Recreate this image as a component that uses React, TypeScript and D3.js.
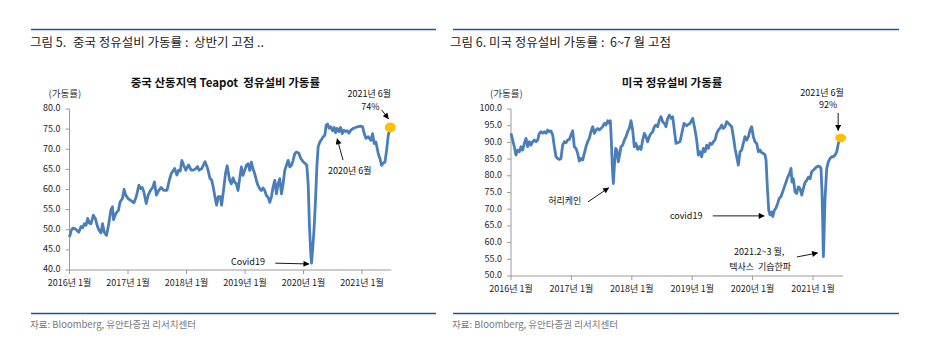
import React from "react";
import * as d3 from "d3";

// months counted from 2016년 1월 (fractional = within the month)
const chinaMonths = [
    0, 0.34, 0.68, 1.22, 1.9, 2.37, 2.71, 3.05, 3.39, 3.73, 4.07, 4.41, 4.88, 5.29, 5.76, 6.1, 6.44, 6.78, 7.12, 7.59,
    8.0, 8.47, 8.81, 9.02, 9.49, 10.03, 10.37, 10.85, 11.19, 11.53, 12.0, 12.54, 13.22, 13.69, 14.24, 14.58, 14.92, 15.25,
    15.73, 16.14, 16.61, 17.08, 17.42, 17.83, 18.31, 18.78, 19.32, 20.0, 20.47, 20.88, 21.36, 21.56, 22.03, 22.37, 22.71,
    23.05, 23.39, 23.86, 24.41, 24.95, 25.42, 25.9, 26.24, 26.58, 27.12, 27.8, 28.34, 28.81, 29.15, 29.49, 29.83, 30.17,
    30.51, 30.92, 31.19, 31.59, 32.0, 32.34, 32.85, 33.19, 33.53, 33.88, 34.22, 34.56, 34.9, 35.25, 35.59, 35.93, 36.27,
    36.62, 36.96, 37.3, 37.64, 37.99, 38.33, 38.67, 39.01, 39.36, 39.7, 40.04, 40.38, 40.73, 41.07, 41.41, 41.75, 42.1,
    42.44, 42.78, 43.12, 43.47, 43.81, 44.15, 44.49, 44.84, 45.18, 45.52, 45.86, 46.21, 46.55, 47.03, 47.44, 47.92, 48.4,
    48.67, 48.95, 49.22, 49.49, 49.63, 49.9, 50.18, 50.45, 50.73, 51.0, 51.34, 51.68, 52.03, 52.37, 52.64, 52.92, 53.26,
    53.6, 53.95, 54.29, 54.56, 54.9, 55.25, 55.59, 55.93, 56.27, 56.62, 56.96, 57.3, 57.71, 58.19, 58.67, 59.22, 59.77,
    60.11, 60.45, 60.79, 61.27, 61.82, 62.16, 62.5, 62.84, 63.33, 63.67, 64.01, 64.36, 64.7, 65.04, 65.38, 65.8
];
const chinaRates = [
    48.2, 49.8, 50.4, 50.2, 49.4, 50.8, 50.5, 51.5, 51.1, 52.8, 51.7, 51.5, 53.6, 52.8, 50.7, 49.8, 49.2, 51.5, 49.4, 48.6,
    51.1, 54.8, 55.7, 52.5, 54.0, 54.8, 56.9, 57.75, 60.0, 58.6, 57.75, 57.3, 56.7, 58.2, 61.1, 60.25, 60.5, 59.4,
    56.5, 58.6, 59.8, 60.5, 61.9, 58.6, 59.8, 60.5, 59.8, 59.8, 62.3, 64.0, 64.8, 65.25, 63.6, 64.8, 64.6,
    67.2, 66.1, 64.8, 66.1, 64.8, 64.8, 65.2, 65.7, 64.8, 65.2, 66.9, 65.2, 62.75, 62.4, 60.5, 58.2, 56.1,
    58.2, 58.2, 56.1, 59.8, 64.0, 65.9, 62.25, 61.4, 62.9, 61.8, 61.4, 59.75, 62.7, 65.6, 63.5, 64.75, 66.0,
    66.4, 64.75, 66.8, 65.1, 63.9, 62.25, 61.0, 60.2, 59.75, 60.4, 59.75, 58.5, 58.1, 56.8, 58.1, 60.6, 62.25,
    58.9, 61.4, 62.7, 58.9, 61.4, 64.75, 66.0, 67.25, 65.6, 66.0, 67.25, 68.9, 69.3, 69.0, 67.7, 66.9, 66.4,
    66.0, 61.4, 50.6, 43.9, 41.7, 45.6, 50.6, 57.25, 65.6, 70.6, 71.8, 72.4, 73.1, 73.5, 76.0, 76.25, 75.2,
    75.6, 74.6, 75.4, 74.1, 75.2, 74.4, 75.4, 73.9, 74.75, 74.4, 74.6, 74.0, 74.75, 75.2, 75.4, 75.6, 75.75,
    75.6, 73.9, 72.7, 73.1, 72.2, 73.9, 71.4, 71.8, 68.9, 67.7, 66.0, 66.6, 66.8, 69.75, 73.5, 75.4
];

const usMonths = [
    0, 0.33, 0.66, 0.99, 1.32, 1.66, 1.99, 2.32, 2.65, 2.98, 3.31, 3.64, 3.97, 4.3, 4.64, 4.97, 5.3, 5.63, 5.96, 6.29,
    6.62, 6.95, 7.28, 7.62, 7.95, 8.28, 8.61, 8.94, 9.27, 9.6, 9.93, 10.26, 10.6, 10.93, 11.26, 11.59, 11.92, 12.25,
    12.58, 12.91, 13.25, 13.58, 13.91, 14.24, 14.57, 14.9, 15.23, 15.56, 15.89, 16.23, 16.56, 16.89, 17.22, 17.55,
    17.88, 18.21, 18.54, 18.87, 19.21, 19.54, 19.74, 19.93, 20.13, 20.33, 20.53, 20.79, 21.06, 21.32, 21.59, 21.85,
    22.19, 22.52, 22.85, 23.18, 23.51, 23.84, 24.17, 24.5, 24.83, 25.17, 25.5, 25.83, 26.16, 26.49, 26.82, 27.15,
    27.48, 27.81, 28.15, 28.48, 28.81, 29.14, 29.47, 29.8, 30.13, 30.46, 30.79, 31.13, 31.46, 31.79, 32.12, 32.45,
    32.78, 33.58, 34.37, 34.9, 35.56, 36.1, 36.56, 36.89, 37.22, 37.55, 37.88, 38.21, 38.55, 38.88, 39.21, 39.54,
    39.87, 40.2, 40.53, 40.87, 41.2, 41.53, 41.86, 42.19, 42.52, 42.85, 43.18, 43.51, 43.85, 44.18, 44.51, 44.84,
    45.17, 45.5, 45.83, 46.16, 46.49, 46.83, 47.16, 47.49, 47.82, 48.15, 48.48, 48.82, 49.15, 49.47, 49.81, 50.14,
    50.47, 50.67, 50.93, 51.2, 51.46, 51.8, 52.0, 52.32, 52.65, 52.99, 53.31, 53.65, 53.98, 54.31, 54.64, 54.98,
    55.3, 55.63, 55.83, 56.1, 56.43, 56.76, 57.09, 57.42, 57.76, 58.09, 58.42, 58.75, 59.08, 59.41, 59.74, 60.07,
    60.4, 60.74, 61.07, 61.39, 61.59, 61.79, 61.93, 62.06, 62.19, 62.39, 62.73, 63.05, 63.38, 63.72, 64.05, 64.38,
    64.72, 65.05, 65.5
];
const usRates = [
    92.7, 90.7, 88.7, 86.2, 87.7, 87.2, 88.7, 87.7, 89.7, 91.2, 88.7, 90.2, 89.2, 90.2, 90.7, 90.2, 90.7, 92.7, 93.2, 92.7,
    93.2, 92.7, 93.7, 93.2, 93.4, 92.2, 88.7, 85.7, 85.2, 84.9, 85.2, 89.2, 90.2, 89.9, 90.7, 90.9, 92.2, 93.5,
    88.7, 88.2, 86.7, 84.4, 85.2, 84.7, 86.7, 88.7, 90.2, 91.2, 93.2, 94.7, 92.7, 93.7, 94.2, 93.7,
    94.2, 94.7, 95.7, 95.2, 96.5, 95.7, 96.5, 90.7, 82.7, 77.7, 82.7, 88.2, 87.7, 84.2, 86.2, 88.7,
    89.2, 90.7, 91.7, 93.2, 94.2, 96.5, 93.7, 88.7, 89.7, 87.9, 88.7, 87.9, 90.7, 92.7, 91.7, 90.2,
    91.7, 92.7, 93.2, 94.7, 95.2, 94.7, 96.7, 97.7, 96.2, 95.7, 94.7, 97.2, 98.2, 97.2, 97.7, 93.7,
    89.7, 90.2, 95.7, 95.0, 95.7, 97.2, 93.7, 90.7, 86.2, 87.2, 85.7, 88.2, 87.2, 89.2, 88.2, 89.8,
    89.4, 90.2, 90.7, 92.7, 93.7, 94.2, 95.2, 94.2, 94.7, 96.2, 95.7, 95.2, 94.7, 91.7, 88.2, 85.7,
    83.2, 87.2, 87.7, 89.8, 91.7, 90.7, 91.7, 93.7, 94.7, 91.7, 90.2, 89.7, 87.2, 87.7, 86.9, 86.7,
    86.2, 84.7, 76.7, 69.7, 68.3, 69.2, 67.8, 69.7, 70.4, 71.8, 73.3, 73.8, 75.2, 76.7, 78.1, 79.6,
    80.6, 82.2, 78.1, 79.1, 75.2, 74.7, 76.7, 76.2, 74.2, 76.2, 78.1, 78.6, 79.6, 79.1, 81.2, 81.7,
    82.2, 82.7, 82.9, 82.7, 82.2, 75.2, 65.8, 55.8, 61.8, 73.2, 82.2, 84.2, 85.2, 85.7, 85.7, 86.2,
    87.2, 89.8, 91.3
];

const xTickMonths = [0, 12, 24, 36, 48, 60];
const xTickLabels = ["2016년 1월", "2017년 1월", "2018년 1월", "2019년 1월", "2020년 1월", "2021년 1월"];
const chinaYTicks = [40, 45, 50, 55, 60, 65, 70, 75, 80];
const usYTicks = [50, 55, 60, 65, 70, 75, 80, 85, 90, 95, 100];

interface Note { text: string; m: number; v: number; }
interface Arrow { m1: number; v1: number; m2: number; v2: number; }

const NB = "\u00A0";

const chinaNotes: Note[] = [
    { text: "2021년 6월", m: 61.5, v: 83.6 },
    { text: "74%", m: 61.7, v: 80.4 },
    { text: "2020년 6월", m: 57.5, v: 64.4 },
    { text: "Covid19", m: 36.6, v: 41.8 },
];
const chinaArrows: Arrow[] = [
    { m1: 64.0, v1: 79.8, m2: 65.4, v2: 77.6 },
    { m1: 56.1, v1: 67.3, m2: 54.9, v2: 72.6 },
    { m1: 42.2, v1: 41.7, m2: 49.1, v2: 41.5 },
];
const usNotes: Note[] = [
    { text: "2021년 6월", m: 61.8, v: 104.6 },
    { text: "92%", m: 63.0, v: 101.0 },
    { text: "허리케인", m: 10.7, v: 72.3 },
    { text: "covid19", m: 34.8, v: 67.8 },
    { text: "2021.2~3 월,", m: 49.3, v: 57.0 },
    { text: `텍사스${NB} 기습한파`, m: 49.5, v: 52.5 },
];
const usArrows: Arrow[] = [
    { m1: 65.0, v1: 98.8, m2: 65.0, v2: 93.6 },
    { m1: 15.3, v1: 72.2, m2: 19.4, v2: 76.4 },
    { m1: 40.1, v1: 68.0, m2: 50.3, v2: 68.0 },
    { m1: 56.8, v1: 55.7, m2: 60.9, v2: 56.9 },
];

const FONT = "'Noto Sans CJK KR', 'Noto Sans', sans-serif";
const LINE_COLOR = "#4A7EBB";
const DOT_COLOR = "#FFC000";
const AXIS_COLOR = "#9A9A9A";
const RULE_COLOR = "#1A56A0";

interface IPanelProps {
    id: string;
    title: string;
    months: number[];
    rates: number[];
    yTicks: number[];
    left: number;
    right: number;
    top: number;
    bottom: number;
    notes: Note[];
    arrows: Arrow[];
    dotRy: number;
}

function Panel(props: IPanelProps) {
    const { months, rates, yTicks, left, right, top, bottom } = props;
    const x = d3.scaleLinear([0, 66], [left, right]);
    const y = d3.scaleLinear([yTicks[0], yTicks[yTicks.length - 1]], [bottom, top]);
    const pts = months.map((m, i) => [m, rates[i]] as [number, number]);
    const line = d3.line<[number, number]>()
        .x((d) => x(d[0]))
        .y((d) => y(d[1]));
    const last = pts[pts.length - 1];
    const markerId = "arrow-" + props.id;

    return <g fontFamily={FONT}>
        <defs>
            <marker id={markerId} viewBox="0 0 10 10" refX={9} refY={5} markerWidth={7} markerHeight={6} orient="auto" markerUnits="userSpaceOnUse">
                <path d="M0,0 L10,5 L0,10 z" fill="#000" />
            </marker>
        </defs>
        <text x={(left + right) / 2 - 5} y={top - 22} textAnchor="middle" fontSize={11.5} fontWeight="bold" fill="#111">{props.title}</text>
        <text x={left - 21} y={top - 12} fontSize={9.5} fill="#333">(가동률)</text>

        {/* y axis */}
        <line x1={left} x2={left} y1={top} y2={bottom} stroke={AXIS_COLOR} />
        {yTicks.map((t) => (
            <g key={t}>
                <line x1={left - 4} x2={left} y1={y(t)} y2={y(t)} stroke={AXIS_COLOR} />
                <text x={left - 9} y={y(t)} dominantBaseline="middle" textAnchor="end" fontSize={9} fill="#222">{t.toFixed(1)}</text>
            </g>
        ))}

        {/* x axis */}
        <line x1={left} x2={right} y1={bottom} y2={bottom} stroke={AXIS_COLOR} />
        {xTickMonths.map((m, i) => (
            <g key={m}>
                <line x1={x(m)} x2={x(m)} y1={bottom} y2={bottom + 4} stroke={AXIS_COLOR} />
                <text x={x(m)} y={bottom + 14} dominantBaseline="middle" textAnchor="middle" fontSize={9} fill="#222">{xTickLabels[i]}</text>
            </g>
        ))}

        <path d={line(pts)!} fill="none" stroke={LINE_COLOR} strokeWidth={2.8} strokeLinejoin="round" />
        <ellipse cx={x(last[0])} cy={y(last[1])} rx={5.5} ry={props.dotRy} fill={DOT_COLOR} />

        {props.arrows.map((a, i) => (
            <line key={i} x1={x(a.m1)} y1={y(a.v1)} x2={x(a.m2)} y2={y(a.v2)} stroke="#000" strokeWidth={0.9} markerEnd={`url(#${markerId})`} />
        ))}
        {props.notes.map((n, i) => (
            <text key={i} x={x(n.m)} y={y(n.v)} dominantBaseline="middle" textAnchor="middle" fontSize={9} fill="#111">{n.text}</text>
        ))}
    </g>;
}

export default function App() {
    return <svg width={930} height={353} style={{ position: "absolute", left: 0, top: 0, background: "#fff" }}>
        {/* headers */}
        <line x1={31} x2={436} y1={29.5} y2={29.5} stroke={RULE_COLOR} strokeWidth={1.5} />
        <line x1={453} x2={899} y1={29.5} y2={29.5} stroke={RULE_COLOR} strokeWidth={1.5} />
        <g fontFamily={FONT} fontSize={12.5} fill="#222">
            <text x={30} y={44} dominantBaseline="middle">그림 5.</text>
            <text x={73} y={44} dominantBaseline="middle">{`중국 정유설비 가동률 :${NB} 상반기 고점 ..`}</text>
            <text x={450} y={44} dominantBaseline="middle">{`그림 6. 미국 정유설비 가동률 :${NB} 6~7 월 고점`}</text>
        </g>

        <Panel id="cn" title={`중국 산동지역 Teapot${NB} 정유설비 가동률`}
            months={chinaMonths} rates={chinaRates} yTicks={chinaYTicks}
            left={69.5} right={391.3} top={109} bottom={270}
            notes={chinaNotes} arrows={chinaArrows} dotRy={5} />
        <Panel id="us" title="미국 정유설비 가동률"
            months={usMonths} rates={usRates} yTicks={usYTicks}
            left={511} right={843.2} top={109} bottom={276}
            notes={usNotes} arrows={usArrows} dotRy={4.2} />

        {/* footers */}
        <line x1={31} x2={436} y1={313.5} y2={313.5} stroke={RULE_COLOR} strokeWidth={1.5} />
        <line x1={453} x2={899} y1={313.5} y2={313.5} stroke={RULE_COLOR} strokeWidth={1.5} />
        <g fontFamily={FONT} fontSize={9.5} fill="#777">
            <text x={30} y={325} dominantBaseline="middle">자료: Bloomberg, 유안타증권 리서치센터</text>
            <text x={452} y={325} dominantBaseline="middle">자료: Bloomberg, 유안타증권 리서치센터</text>
        </g>
    </svg>;
}
